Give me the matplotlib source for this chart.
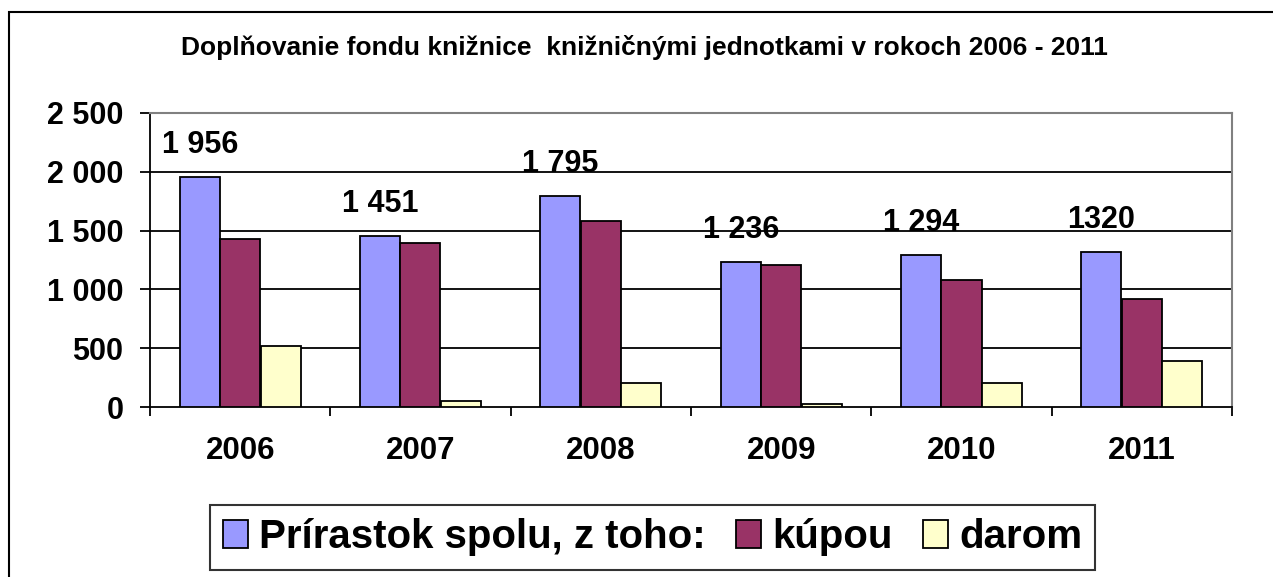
import numpy as np
import matplotlib
matplotlib.use("Agg")
import matplotlib.pyplot as plt
from matplotlib.patches import Rectangle
from matplotlib.ticker import FuncFormatter

# data
years = ["2006", "2007", "2008", "2009", "2010", "2011"]
spolu = [1956, 1451, 1795, 1236, 1294, 1320]
kupou = [1426, 1392, 1582, 1207, 1080, 921]
darom = [521, 54, 207, 25, 207, 391]
spolu_labels = ["1 956", "1 451", "1 795", "1 236", "1 294", "1320"]
series_names = ["Prírastok spolu, z toho:", "kúpou", "darom"]
yticks = [0, 500, 1000, 1500, 2000, 2500]

plt.rcParams['font.family'] = ['Liberation Sans', 'DejaVu Sans']
plt.rcParams['font.weight'] = 'bold'

fig = plt.figure(figsize=(12.73, 5.77), dpi=100)
ax = fig.add_axes([0.1178, 0.2946, 0.85, 0.5096])

x = np.arange(len(years))
w = 0.222
colors = ["#9999FF", "#993366", "#FFFFCC"]
bars = []
for i, (vals, col) in enumerate(zip([spolu, kupou, darom], colors)):
    b = ax.bar(x + (i - 1) * 0.224, vals, width=w, color=col,
               edgecolor="black", linewidth=1.3, zorder=3)
    bars.append(b)

# data labels above the total bars
for xi, v, lab in zip(x, spolu, spolu_labels):
    ax.annotate(lab, (xi - 0.224, v), xytext=(0, 23), textcoords="offset points",
                ha="center", va="center", fontsize=22, fontweight="bold", zorder=4)

ax.set_xlim(-0.5, len(years) - 0.5)
ax.set_ylim(0, 2500)

# gridlines
for yv in yticks[1:-1]:
    ax.axhline(yv, color="black", linewidth=1.3, zorder=1)

ax.set_yticks(yticks)
ax.yaxis.set_major_formatter(FuncFormatter(lambda v, p: f"{int(v):,}".replace(",", " ")))
ax.tick_params(axis="y", direction="out", length=7.2, width=1.3, pad=12,
               labelsize=22)

ax.set_xticks(x)
ax.set_xticklabels(years)
ax.tick_params(axis="x", which="major", length=0, pad=21, labelsize=22.5)
ax.set_xticks(np.arange(-0.5, len(years), 1.0), minor=True)
ax.tick_params(axis="x", which="minor", direction="out", length=6.5, width=1.3)

for lbl in ax.get_xticklabels() + ax.get_yticklabels():
    lbl.set_fontweight("bold")

ax.spines["left"].set_linewidth(1.3)
ax.spines["bottom"].set_linewidth(1.3)
ax.spines["top"].set_color("#808080")
ax.spines["right"].set_color("#808080")
ax.spines["top"].set_linewidth(1.5)
ax.spines["right"].set_linewidth(1.5)

fig.text(0.506, 1 - 48 / 577, "Doplňovanie fondu knižnice  knižničnými jednotkami v rokoch 2006 - 2011",
         ha="center", va="center", fontsize=19, fontweight="bold")

leg = fig.legend([b[0] for b in bars], series_names, loc="center",
                 bbox_to_anchor=(0.5126, 0.0685), ncol=3, fontsize=29,
                 frameon=True, fancybox=False, shadow=False,
                 handlelength=0.63, handleheight=0.7, handletextpad=0.27,
                 columnspacing=0.75, borderpad=0.33, borderaxespad=0)
leg.get_frame().set_edgecolor("black")
leg.get_frame().set_linewidth(1.5)
for t in leg.get_texts():
    t.set_fontweight("bold")

# outer chart border (left and top visible)
fig.patches.append(Rectangle((8.5 / 1273, -0.1), 1.2, 1.1 - 11.5 / 577,
                             transform=fig.transFigure, fill=False,
                             edgecolor="black", linewidth=1.5))

fig.savefig("out.png", dpi=100)
